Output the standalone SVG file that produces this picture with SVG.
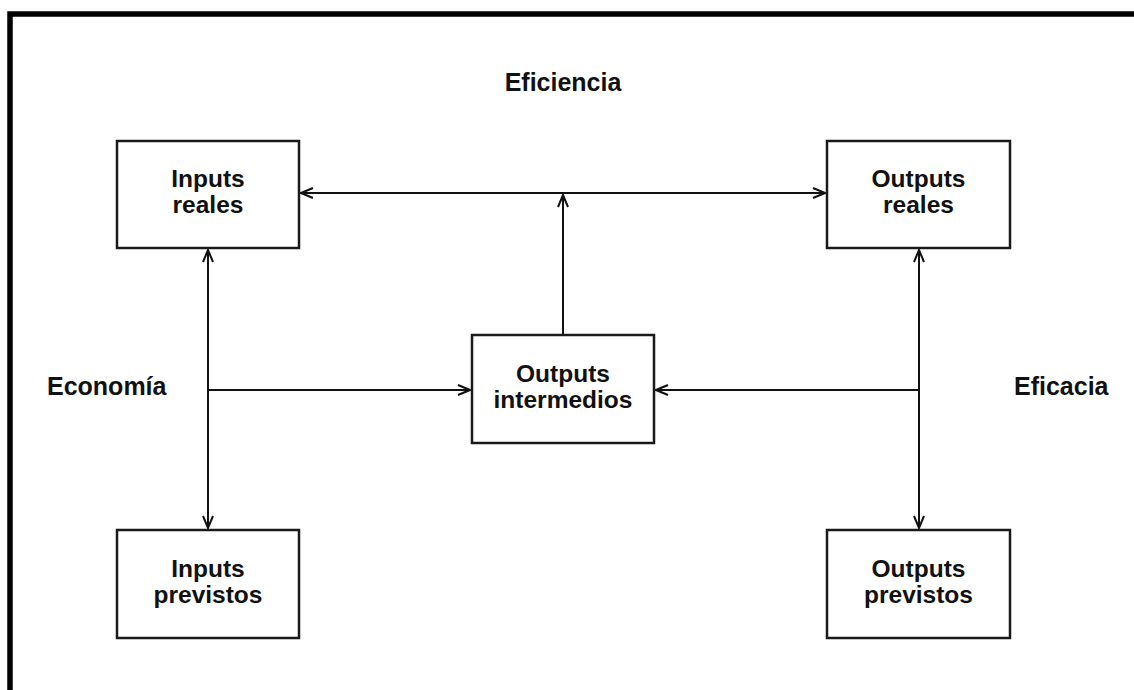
<svg xmlns="http://www.w3.org/2000/svg" width="1134" height="690" viewBox="0 0 1134 690">
<style>
.box{fill:#fff;stroke:#1a1a1a;stroke-width:2.5}
.t{font-family:"Liberation Sans",Arial,sans-serif;font-weight:bold;font-size:24.5px;fill:#111;text-anchor:middle}
.lbl{font-family:"Liberation Sans",Arial,sans-serif;font-weight:bold;font-size:25px;fill:#111}
.c{fill:none;stroke:#111;stroke-width:2}
</style>
<defs>
<marker id="ah" viewBox="0 0 14 12" refX="13" refY="6" markerWidth="14" markerHeight="12" markerUnits="userSpaceOnUse" orient="auto-start-reverse">
<path d="M1,1 L13,6 L1,11" fill="none" stroke="#111" stroke-width="2"/>
</marker>
</defs>
<rect width="1134" height="690" fill="#fff"/>
<path d="M10,690 V14 H1134" fill="none" stroke="#000" stroke-width="5.5"/>
<text class="lbl" x="563" y="91" text-anchor="middle">Eficiencia</text>
<text class="lbl" x="47" y="395">Economía</text>
<text class="lbl" x="1014" y="395">Eficacia</text>
<g id="connectors">
<line class="c" x1="301" y1="193" x2="825" y2="193" marker-start="url(#ah)" marker-end="url(#ah)"/>
<line class="c" x1="563" y1="334" x2="563" y2="195" marker-end="url(#ah)"/>
<line class="c" x1="208" y1="250" x2="208" y2="528" marker-start="url(#ah)" marker-end="url(#ah)"/>
<line class="c" x1="208" y1="390" x2="470" y2="390" marker-end="url(#ah)"/>
<line class="c" x1="919" y1="250" x2="919" y2="528" marker-start="url(#ah)" marker-end="url(#ah)"/>
<line class="c" x1="919" y1="390" x2="656" y2="390" marker-end="url(#ah)"/>
</g>
<g id="inputs-reales">
<rect class="box" x="117" y="141" width="182" height="107"/>
<text class="t" x="208" y="187">Inputs</text>
<text class="t" x="208" y="213">reales</text>
</g>
<g id="outputs-reales">
<rect class="box" x="827" y="141" width="183" height="107"/>
<text class="t" x="918.5" y="187">Outputs</text>
<text class="t" x="918.5" y="213">reales</text>
</g>
<g id="outputs-intermedios">
<rect class="box" x="472" y="335" width="182" height="108"/>
<text class="t" x="563" y="382">Outputs</text>
<text class="t" x="563" y="408">intermedios</text>
</g>
<g id="inputs-previstos">
<rect class="box" x="117" y="530" width="182" height="108"/>
<text class="t" x="208" y="577">Inputs</text>
<text class="t" x="208" y="603">previstos</text>
</g>
<g id="outputs-previstos">
<rect class="box" x="827" y="530" width="183" height="108"/>
<text class="t" x="918.5" y="577">Outputs</text>
<text class="t" x="918.5" y="603">previstos</text>
</g>
</svg>
